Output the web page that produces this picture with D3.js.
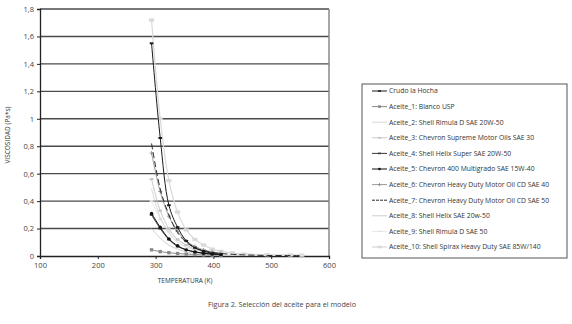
<!DOCTYPE html>
<html><head><meta charset="utf-8">
<script src="https://cdn.jsdelivr.net/npm/d3@7"></script>
<style>body{margin:0;background:#fff}svg{display:block}text{font-family:"Open Sans",sans-serif}</style>
</head><body>
<svg id="c" width="572" height="324"></svg>
<script>
const temps = [293, 308, 323, 338, 353, 368, 383, 398, 413];
const tempsLong = [293, 308, 323, 338, 353, 368, 383, 398, 413, 433, 453, 493, 533, 553];
const xTicks = [100, 200, 300, 400, 500, 600];
const yTicks = [0, 0.2, 0.4, 0.6, 0.8, 1, 1.2, 1.4, 1.6, 1.8];
const seriesNames = ["Crudo la Hocha","Aceite_1: Blanco USP","Aceite_2: Shell Rimula D SAE 20W-50","Aceite_3: Chevron Supreme Motor Oils SAE 30","Aceite_4: Shell Helix Super SAE 20W-50","Aceite_5: Chevron 400 Multigrado SAE 15W-40","Aceite_6: Chevron Heavy Duty Motor Oil CD SAE 40","Aceite_7: Chevron Heavy Duty Motor Oil CD SAE 50","Aceite_8: Shell Helix SAE 20w-50","Aceite_9: Shell Rimula D SAE 50","Aceite_10: Shell Spirax Heavy Duty SAE 85W/140"];
const crudo = [1.55, 0.86, 0.37, 0.21, 0.11, 0.06, 0.035, 0.02, 0.012];
const aceite1 = [0.045, 0.032, 0.024, 0.018, 0.014, 0.011, 0.008, 0.006, 0.005];
const aceite2 = [0.49, 0.28, 0.17, 0.10, 0.065, 0.045, 0.03, 0.02, 0.015];
const aceite3 = [0.56, 0.33, 0.2, 0.12, 0.08, 0.05, 0.035, 0.025, 0.018];
const aceite4 = [0.30, 0.20, 0.12, 0.07, 0.045, 0.03, 0.02, 0.014, 0.01];
const aceite5 = [0.31, 0.21, 0.125, 0.075, 0.045, 0.03, 0.02, 0.014, 0.01];
const aceite6 = [0.75, 0.47, 0.29, 0.18, 0.11, 0.07, 0.045, 0.03, 0.02];
const aceite7 = [0.82, 0.49, 0.30, 0.17, 0.10, 0.06, 0.04, 0.026, 0.018, 0.012, 0.008, 0.004, 0.003, 0.002];
const aceite8 = [0.20, 0.13, 0.08, 0.05, 0.03, 0.02, 0.014, 0.01, 0.007];
const aceite9 = [0.40, 0.27, 0.18, 0.12, 0.08, 0.05, 0.035, 0.025, 0.018, 0.012, 0.009, 0.006, 0.005, 0.004];
const aceite10 = [1.72, 1.00, 0.55, 0.32, 0.19, 0.12, 0.08, 0.05, 0.035, 0.022, 0.015, 0.01, 0.008, 0.007];

const series = [
  {name:seriesNames[0], t:temps, v:crudo, color:"#1a1a1a", w:1, marker:"dash"},
  {name:seriesNames[1], t:temps, v:aceite1, color:"#8a8a8a", w:1, marker:"square"},
  {name:seriesNames[2], t:temps, v:aceite2, color:"#d2d2d2", w:0.9, marker:"none"},
  {name:seriesNames[3], t:temps, v:aceite3, color:"#c2c2c2", w:0.9, marker:"dash"},
  {name:seriesNames[4], t:temps, v:aceite4, color:"#3a3a3a", w:1, marker:"dash"},
  {name:seriesNames[5], t:temps, v:aceite5, color:"#111", w:1, marker:"circle"},
  {name:seriesNames[6], t:temps, v:aceite6, color:"#8f8f8f", w:0.9, marker:"plus"},
  {name:seriesNames[7], t:tempsLong, v:aceite7, color:"#2b2b2b", w:1, marker:"none", dash:"6,3"},
  {name:seriesNames[8], t:temps, v:aceite8, color:"#c8c8c8", w:0.9, marker:"none"},
  {name:seriesNames[9], t:tempsLong, v:aceite9, color:"#e4e4e4", w:0.9, marker:"dash"},
  {name:seriesNames[10], t:tempsLong, v:aceite10, color:"#d8d8d8", w:1.2, marker:"bigdash"}
];

const svg = d3.select("#c");
const x = d3.scaleLinear().domain([100, 600]).range([40, 329]);
const y = d3.scaleLinear().domain([0, 1.8]).range([256, 9]);
const fmt = d => String(d).replace(".", ",");

svg.append("g").selectAll("line").data(yTicks.filter(d => d > 0)).join("line")
  .attr("x1", x(100)).attr("x2", x(600)).attr("y1", d => y(d)).attr("y2", d => y(d))
  .attr("stroke", "#4a4a4a").attr("stroke-width", 1.4);
svg.append("line").attr("x1", x(600)).attr("x2", x(600)).attr("y1", y(1.8)).attr("y2", y(0))
  .attr("stroke", "#888").attr("stroke-width", 1.5);

const yAxis = svg.append("g").attr("transform", `translate(${x(100)},0)`)
  .call(d3.axisLeft(y).tickValues(yTicks).tickFormat(fmt).tickSize(3));
const xAxis = svg.append("g").attr("transform", `translate(0,${y(0)})`)
  .call(d3.axisBottom(x).tickValues(xTicks).tickSize(3));
[yAxis, xAxis].forEach(a => {
  a.select(".domain").attr("stroke", "#222").attr("stroke-width", 1.3);
  a.selectAll(".tick line").attr("stroke", "#222");
  a.selectAll("text").attr("font-size", 7.5).attr("fill", "#444").attr("font-family", "Open Sans, sans-serif");
});
yAxis.selectAll("text").attr("x", -6);
xAxis.selectAll("text").attr("y", 7);

const line = d3.line().x(d => x(d[0])).y(d => y(d[1])).curve(d3.curveCatmullRom.alpha(0.5));
function drawMarker(g, s, px, py, size) {
  const k = size || 1;
  if (s.marker === "square") g.append("rect").attr("x", px-1.7*k).attr("y", py-1.7*k).attr("width", 3.4*k).attr("height", 3.4*k).attr("fill", s.color);
  else if (s.marker === "circle") g.append("circle").attr("cx", px).attr("cy", py).attr("r", 1.7*k).attr("fill", s.color);
  else if (s.marker === "dash") g.append("rect").attr("x", px-1.8*k).attr("y", py-1*k).attr("width", 3.6*k).attr("height", 2*k).attr("fill", s.color);
  else if (s.marker === "bigdash") g.append("rect").attr("x", px-2.6*k).attr("y", py-1.6*k).attr("width", 5.2*k).attr("height", 3.2*k).attr("fill", s.color);
  else if (s.marker === "plus") {
    g.append("line").attr("x1", px-2*k).attr("x2", px+2*k).attr("y1", py).attr("y2", py).attr("stroke", s.color).attr("stroke-width", 0.9);
    g.append("line").attr("x1", px).attr("x2", px).attr("y1", py-2*k).attr("y2", py+2*k).attr("stroke", s.color).attr("stroke-width", 0.9);
  }
}
const order = [10, 9, 8, 2, 3, 6, 1, 4, 7, 5, 0];
order.forEach(i => {
  const s = series[i];
  const pts = s.t.map((t, j) => [t, s.v[j]]);
  const g = svg.append("g");
  g.append("path").attr("d", line(pts)).attr("fill", "none").attr("stroke", s.color)
    .attr("stroke-width", s.w).attr("stroke-dasharray", s.dash || null);
  pts.forEach(p => drawMarker(g, s, x(p[0]), y(p[1])));
});

const lg = svg.append("g");
lg.append("rect").attr("x", 362).attr("y", 84).attr("width", 205).attr("height", 174)
  .attr("fill", "#fff").attr("stroke", "#555").attr("stroke-width", 1);
series.forEach((s, i) => {
  const yy = 91 + i * 15.6;
  lg.append("line").attr("x1", 372).attr("x2", 387).attr("y1", yy).attr("y2", yy)
    .attr("stroke", s.color).attr("stroke-width", s.w).attr("stroke-dasharray", s.dash ? "3,1" : null);
  drawMarker(lg, s, 379.5, yy, 0.8);
  lg.append("text").attr("x", 389).attr("y", yy).attr("dy", "0.35em")
    .attr("font-size", 6.8).attr("fill", "#333").text(s.name);
});

svg.append("text").attr("x", 185).attr("y", 283).attr("text-anchor", "middle")
  .attr("font-size", 6.5).attr("fill", "#333").text("TEMPERATURA (K)");
svg.append("text").attr("transform", "translate(10,135) rotate(-90)").attr("text-anchor", "middle")
  .attr("font-size", 6.5).attr("fill", "#333").text("VISCOSIDAD (Pa*s)");
svg.append("text").attr("x", 282).attr("y", 307).attr("text-anchor", "middle")
  .attr("font-size", 7.2).attr("fill", "#444").text("Figura 2. Selección del aceite para el modelo");
</script>
</body></html>
